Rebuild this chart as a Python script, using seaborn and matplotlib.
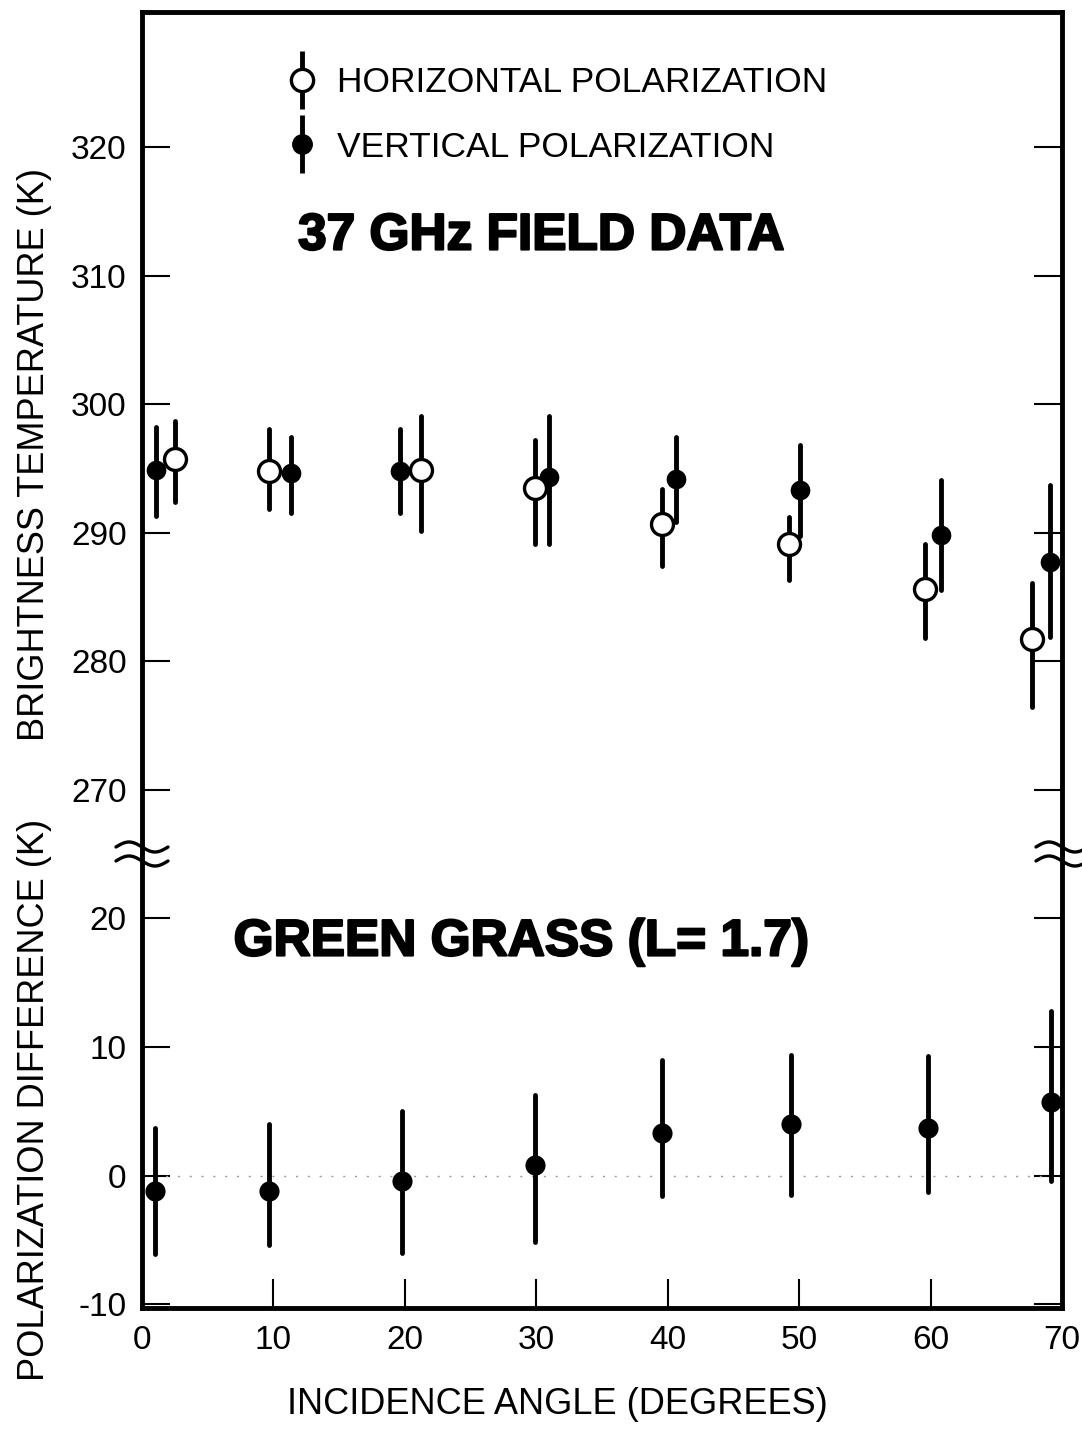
import numpy as np
import pandas as pd
import matplotlib
matplotlib.use("Agg")
import matplotlib.pyplot as plt
import matplotlib.patheffects as pe
from matplotlib.lines import Line2D
from matplotlib.transforms import Affine2D, ScaledTranslation
import seaborn as sns

# Brightness temperature (K), horizontal polarization
h_angle = [2.5, 9.7, 21.2, 29.9, 39.6, 49.2, 59.6, 67.7]
h_tb = [295.7, 294.8, 294.9, 293.5, 290.7, 289.1, 285.6, 281.7]
h_tb_high = [298.7, 298.1, 299.1, 297.2, 293.4, 291.2, 289.1, 286.1]
h_tb_low = [292.4, 291.8, 290.1, 289.1, 287.4, 286.3, 281.8, 276.4]

# Brightness temperature (K), vertical polarization
v_angle = [1.1, 11.3, 19.6, 31.0, 40.6, 50.1, 60.8, 69.1]
v_tb = [294.9, 294.65, 294.8, 294.3, 294.2, 293.3, 289.8, 287.7]
v_tb_high = [298.2, 297.4, 298.1, 299.1, 297.4, 296.8, 294.1, 293.7]
v_tb_low = [291.3, 291.5, 291.5, 289.1, 290.8, 289.7, 285.5, 281.9]

# Polarization difference (K)
d_angle = [1.0, 9.7, 19.8, 29.9, 39.6, 49.4, 59.8, 69.2]
d_val = [-1.2, -1.2, -0.4, 0.85, 3.3, 4.0, 3.7, 5.7]
d_high = [3.7, 4.0, 5.0, 6.3, 9.0, 9.4, 9.3, 12.8]
d_low = [-6.1, -5.4, -6.0, -5.2, -1.6, -1.5, -1.3, -0.4]

tb_ticks = [270, 280, 290, 300, 310, 320]
diff_ticks = [-10, 0, 10, 20]
angle_ticks = [0, 10, 20, 30, 40, 50, 60, 70]

series_labels = ["HORIZONTAL POLARIZATION", "VERTICAL POLARIZATION"]
title_top = "37 GHz FIELD DATA"
title_bottom = "GREEN GRASS (L= 1.7)"

sns.set_theme(style="ticks")
plt.rcParams["font.family"] = ["Liberation Sans", "DejaVu Sans"]
plt.rcParams["axes.unicode_minus"] = False
plt.rcParams["text.color"] = "black"
plt.rcParams["axes.labelcolor"] = "black"
plt.rcParams["xtick.color"] = "black"
plt.rcParams["ytick.color"] = "black"

W_PX, H_PX = 1082, 1430
fig = plt.figure(figsize=(W_PX / 100, H_PX / 100), dpi=100)
fig.patch.set_facecolor("white")

left = 142 / W_PX
width = (1062 - 142) / W_PX
ax_top = fig.add_axes([left, 1 - 854 / H_PX, width, (854 - 12) / H_PX])
ax_bot = fig.add_axes([left, 1 - 1308 / H_PX, width, (1308 - 854) / H_PX])

BAR_LW = 3.5
SPINE_LW = 3.5


def error_bars(ax, x, lo, hi):
    lc = ax.vlines(x, lo, hi, colors="black", linewidth=BAR_LW, zorder=2)
    lc.set_capstyle("round")
    return lc


# upper panel: brightness temperatures
error_bars(ax_top, v_angle, v_tb_low, v_tb_high)
error_bars(ax_top, h_angle, h_tb_low, h_tb_high)
sns.scatterplot(data=pd.DataFrame({"angle": v_angle, "tb": v_tb}), x="angle", y="tb",
                ax=ax_top, marker="o", s=200, color="black", edgecolor="black",
                linewidth=0, zorder=3, legend=False)
sns.scatterplot(data=pd.DataFrame({"angle": h_angle, "tb": h_tb}), x="angle", y="tb",
                ax=ax_top, marker="o", s=250, color="white", edgecolor="black",
                linewidth=2.4, zorder=4, legend=False)

# lower panel: polarization difference
ax_bot.axhline(0, color="0.6", lw=1.0, ls=(0, (1.5, 7)), zorder=1)
error_bars(ax_bot, d_angle, d_low, d_high)
sns.scatterplot(data=pd.DataFrame({"angle": d_angle, "diff": d_val}), x="angle", y="diff",
                ax=ax_bot, marker="o", s=210, color="black", edgecolor="black",
                linewidth=0, zorder=3, legend=False)

# axes limits and frame
for ax in (ax_top, ax_bot):
    ax.set_xlim(0, 70)
    ax.set_xlabel("")
    ax.set_ylabel("")
    ax.set_facecolor("white")
    for sp in ax.spines.values():
        sp.set_linewidth(SPINE_LW)
        sp.set_color("black")
        sp.set_visible(True)
ax_top.spines["bottom"].set_visible(False)
ax_bot.spines["top"].set_visible(False)
ax_top.set_ylim(265, 330.5)
ax_bot.set_ylim(-10.3, 25)

ax_top.set_yticks(tb_ticks)
ax_top.set_yticklabels([str(t) for t in tb_ticks])
ax_top.set_xticks([])
ax_top.tick_params(axis="y", direction="in", length=20, width=1.5, left=True, right=True,
                   labelsize=24, pad=11, colors="black")

ax_bot.set_yticks(diff_ticks)
ax_bot.set_yticklabels([str(t) for t in diff_ticks])
ax_bot.set_xticks(angle_ticks)
ax_bot.set_xticklabels([str(t) for t in angle_ticks])
ax_bot.tick_params(axis="y", direction="in", length=20, width=1.5, left=True, right=True,
                   labelsize=24, pad=11, colors="black")
ax_bot.tick_params(axis="x", direction="in", length=21, width=1.5, bottom=True, top=False,
                   labelsize=24, pad=12, colors="black")

# axis-break symbols where the two panels meet
def break_mark(ax, xa):
    t = np.linspace(-1, 1, 80)
    tr = Affine2D() + ScaledTranslation(xa, 1.0, ax.transAxes)
    for dy in (7, -7):
        fig.add_artist(Line2D(t * 26, -5 * np.sin(np.pi * t) + dy, color="black", lw=2.4,
                              transform=tr, clip_on=False, solid_capstyle="round"))

break_mark(ax_bot, 0.0)
break_mark(ax_bot, 1.0)

# legend with error-bar glyphs
h_handle = (Line2D([], [], ls="none", marker="|", markersize=42, markeredgewidth=BAR_LW, color="black"),
            Line2D([], [], ls="none", marker="o", markersize=16, markerfacecolor="white",
                   markeredgecolor="black", markeredgewidth=2.4))
v_handle = (Line2D([], [], ls="none", marker="|", markersize=42, markeredgewidth=BAR_LW, color="black"),
            Line2D([], [], ls="none", marker="o", markersize=14, markerfacecolor="black",
                   markeredgecolor="black"))
ax_top.legend([h_handle, v_handle], series_labels, loc="upper left",
              bbox_to_anchor=(284 / W_PX, 1 - 66 / H_PX), bbox_transform=fig.transFigure,
              frameon=False, fontsize=25.5, handlelength=1.0, handletextpad=0.5,
              labelspacing=0.9, borderpad=0, borderaxespad=0, numpoints=1,
              labelcolor="black")

# panel captions, set in a heavy weight
heavy = [pe.withStroke(linewidth=1.6, foreground="black")]
fig.text(541 / W_PX, 1 - 236 / H_PX, title_top, fontsize=37, fontweight="bold",
         ha="center", va="center", color="black", path_effects=heavy)
fig.text(521 / W_PX, 1 - 942 / H_PX, title_bottom, fontsize=37, fontweight="bold",
         ha="center", va="center", color="black", path_effects=heavy)

# axis titles
fig.text(35 / W_PX, 1 - 455 / H_PX, "BRIGHTNESS TEMPERATURE (K)", rotation=90,
         fontsize=26, ha="center", va="center", color="black")
fig.text(35 / W_PX, 1 - 1100 / H_PX, "POLARIZATION DIFFERENCE (K)", rotation=90,
         fontsize=26, ha="center", va="center", color="black")
fig.text(557 / W_PX, 1 - 1405 / H_PX, "INCIDENCE ANGLE (DEGREES)",
         fontsize=26, ha="center", va="center", color="black")

fig.savefig("out.png", dpi=100, facecolor="white")
